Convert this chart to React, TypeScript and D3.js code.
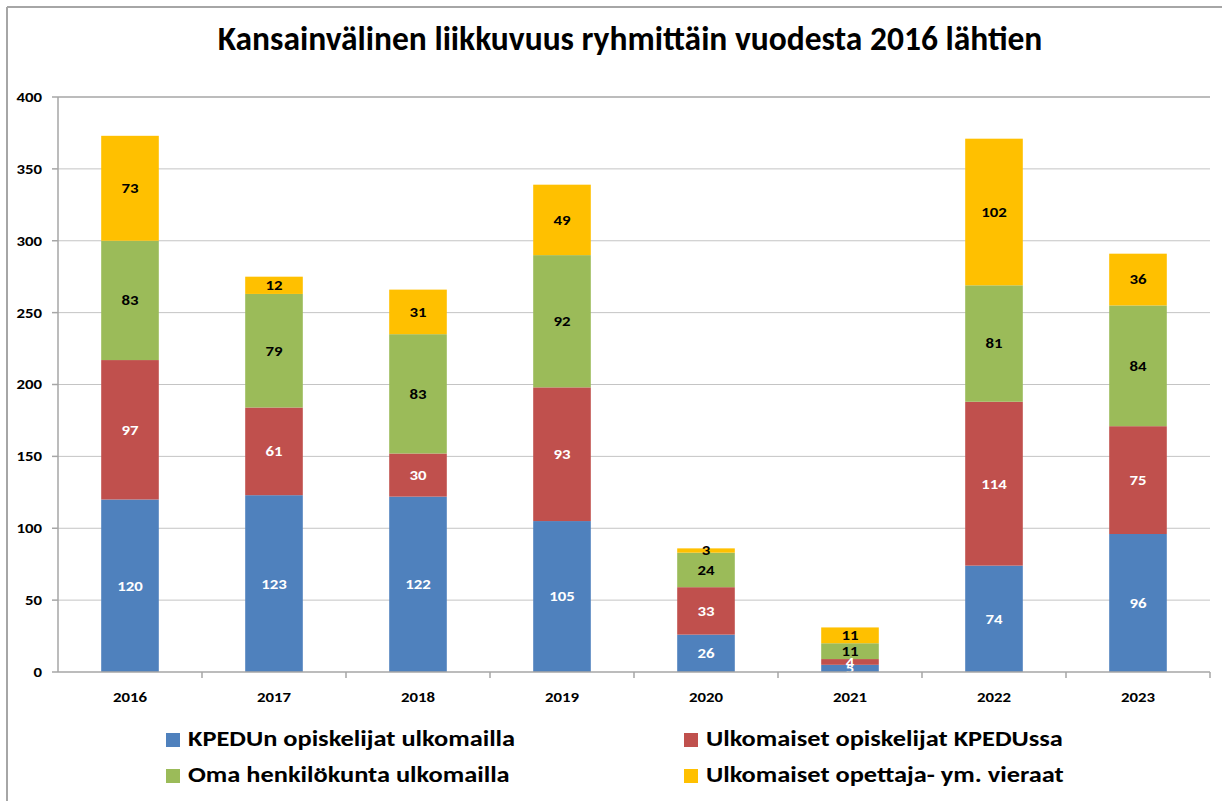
import React from 'react';
import * as d3 from 'd3';

const years = ['2016', '2017', '2018', '2019', '2020', '2021', '2022', '2023'];
const kpeduAbroad = [120, 123, 122, 105, 26, 5, 74, 96];
const foreignStudents = [97, 61, 30, 93, 33, 4, 114, 75];
const staffAbroad = [83, 79, 83, 92, 24, 11, 81, 84];
const foreignVisitors = [73, 12, 31, 49, 3, 11, 102, 36];
const yTicks = [0, 50, 100, 150, 200, 250, 300, 350, 400];

const seriesNames = [
  'KPEDUn opiskelijat ulkomailla',
  'Ulkomaiset opiskelijat KPEDUssa',
  'Oma henkilökunta ulkomailla',
  'Ulkomaiset opettaja- ym. vieraat',
];
const colors = ['#4F81BD', '#C0504D', '#9BBB59', '#FFC000'];
const labelColors = ['#fff', '#fff', '#000', '#000'];

const W = 1222, H = 801;
const FONT = "Carlito, Calibri, 'Liberation Sans', Arial, sans-serif";
const SX = 1.2; // text in the reference is rendered a bit wider

// stretched text helper
function T(props: { x: number; y: number; anchor?: string; size: number; fill?: string; dy?: string; sx?: number; children: any }) {
  const s = props.sx ?? SX;
  return (
    <text transform={`translate(${props.x},${props.y}) scale(${s},1)`} dy={props.dy}
      textAnchor={props.anchor || 'start'} fontSize={props.size} fontWeight="bold" fill={props.fill || '#000'}>
      {props.children}
    </text>
  );
}

export default function App() {
  const series = [kpeduAbroad, foreignStudents, staffAbroad, foreignVisitors];
  const table = years.map((y, i) => {
    const row: any = { year: y };
    series.forEach((s, k) => (row['s' + k] = s[i]));
    return row;
  });
  const keys = series.map((_, k) => 's' + k);
  const stacked = d3.stack().keys(keys)(table);

  const x = d3.scaleBand().domain(years).range([58, 1210]).paddingInner(0.6).paddingOuter(0.3);
  const xb = d3.scaleBand().domain(years).range([58, 1210]);
  const y = d3.scaleLinear().domain([0, 400]).range([672, 97]);

  return (
    <svg width={W} height={H} style={{ position: 'absolute', left: 0, top: 0, background: '#fff' }} fontFamily={FONT}>
      {/* outer frame */}
      <line x1={7} y1={7} x2={W} y2={7} stroke="#a6a6a6" strokeWidth={2} />
      <line x1={7} y1={7} x2={7} y2={H} stroke="#a6a6a6" strokeWidth={2} />

      <text x={630} y={50} textAnchor="middle" fontSize={33.5} fontWeight="bold" fill="#000">
        Kansainvälinen liikkuvuus ryhmittäin vuodesta 2016 lähtien
      </text>

      {/* gridlines */}
      {yTicks.filter(t => t > 0).map(t => (
        <line key={'g' + t} x1={58} x2={1210} y1={y(t)} y2={y(t)} stroke={t === 400 ? '#a6a6a6' : '#c4c4c4'} strokeWidth={t === 400 ? 1.5 : 1} />
      ))}

      {/* bars */}
      {stacked.map((layer, k) => (
        <g key={k}>
          {layer.map((d, i) => (
            <rect key={i} x={x(years[i])} width={x.bandwidth()} y={y(d[1])} height={y(d[0]) - y(d[1])} fill={colors[k]} />
          ))}
        </g>
      ))}

      {/* labels */}
      {stacked.map((layer, k) => (
        <g key={'l' + k}>
          {layer.map((d, i) => (
            <T key={i} x={x(years[i])! + x.bandwidth() / 2} y={(y(d[0]) + y(d[1])) / 2} dy="0.35em"
              anchor="middle" size={14} fill={labelColors[k]}>
              {series[k][i]}
            </T>
          ))}
        </g>
      ))}

      {/* y axis */}
      <line x1={58} x2={58} y1={y(400)} y2={y(0)} stroke="#a6a6a6" strokeWidth={1.5} />
      {yTicks.map(t => (
        <g key={t}>
          <line x1={52} x2={58} y1={y(t)} y2={y(t)} stroke="#a6a6a6" strokeWidth={1.5} />
          <T x={42} y={y(t)} dy="0.35em" anchor="end" size={14}>{t}</T>
        </g>
      ))}

      {/* x axis */}
      <line x1={58} x2={1210} y1={y(0)} y2={y(0)} stroke="#a6a6a6" strokeWidth={1.5} />
      {years.map(yr => (
        <g key={yr}>
          <line x1={xb(yr)! + xb.bandwidth()} x2={xb(yr)! + xb.bandwidth()} y1={y(0)} y2={y(0) + 6} stroke="#a6a6a6" strokeWidth={1.5} />
          <T x={xb(yr)! + xb.bandwidth() / 2} y={697} dy="0.35em" anchor="middle" size={14}>{yr}</T>
        </g>
      ))}

      {/* legend */}
      {seriesNames.map((name, k) => {
        const lx = k % 2 === 0 ? 166 : 684;
        const base = k < 2 ? 746 : 782;
        return (
          <g key={name}>
            <rect x={lx} y={base - 13} width={14} height={14} fill={colors[k]} />
            <T x={lx + 22} y={base} size={22}>{name}</T>
          </g>
        );
      })}
    </svg>
  );
}
